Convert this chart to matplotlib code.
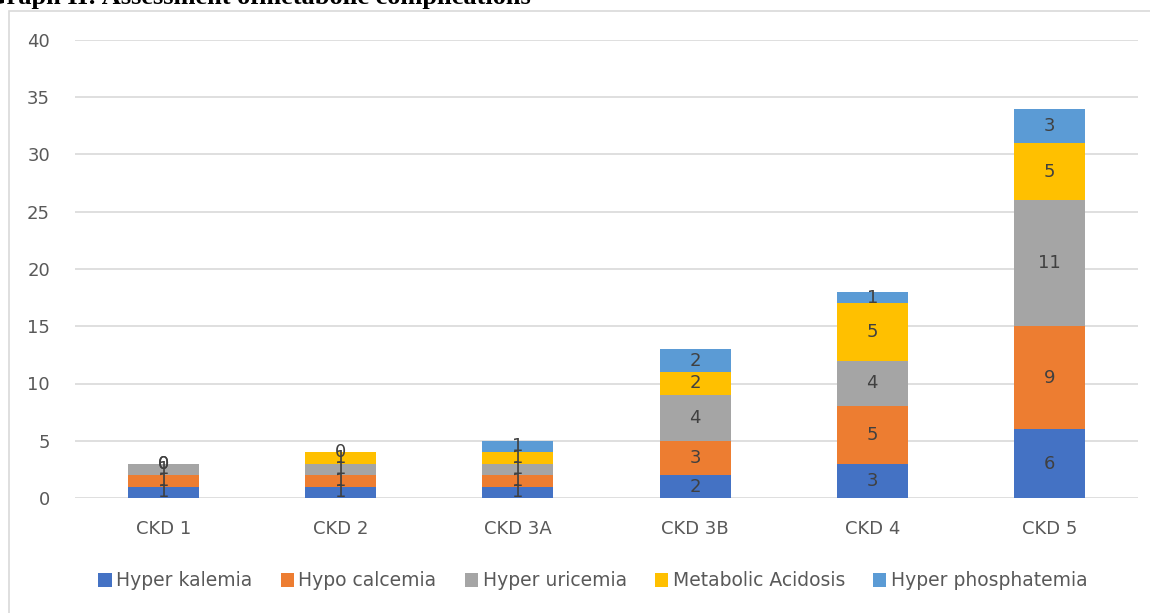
import matplotlib
matplotlib.use("Agg")
import matplotlib.pyplot as plt
from matplotlib.patches import Rectangle
import numpy as np

categories = ["CKD 1", "CKD 2", "CKD 3A", "CKD 3B", "CKD 4", "CKD 5"]
series_names = ["Hyper kalemia", "Hypo calcemia", "Hyper uricemia", "Metabolic Acidosis", "Hyper phosphatemia"]
hyper_kalemia = [1, 1, 1, 2, 3, 6]
hypo_calcemia = [1, 1, 1, 3, 5, 9]
hyper_uricemia = [1, 1, 1, 4, 4, 11]
metabolic_acidosis = [0, 1, 1, 2, 5, 5]
hyper_phosphatemia = [0, 0, 1, 2, 1, 3]
colors = ["#4472C4", "#ED7D31", "#A5A5A5", "#FFC000", "#5B9BD5"]
y_ticks = [0, 5, 10, 15, 20, 25, 30, 35, 40]

series = [hyper_kalemia, hypo_calcemia, hyper_uricemia, metabolic_acidosis, hyper_phosphatemia]

fig = plt.figure(figsize=(11.5, 6.13), dpi=100)
W, H = 1150, 613
ax = fig.add_axes([75 / W, 1 - 498 / H, (1138 - 75) / W, (498 - 40) / H])

# chart border
fig.patches.append(Rectangle((9 / W, -0.1), 1.2, 1 - 11 / H + 0.1, transform=fig.transFigure,
                             fill=False, edgecolor="#D9D9D9", linewidth=1.2))

fig.text(-14 / W, 1 - 4 / H, "Graph II: Assessment ofmetabolic complications",
         fontfamily="Liberation Serif", fontweight="bold", fontsize=19, va="baseline", ha="left")

x = np.arange(len(categories))
bottom = np.zeros(len(categories))
width = 0.4
for name, vals, c in zip(series_names, series, colors):
    vals = np.array(vals, dtype=float)
    ax.bar(x, vals, width, bottom=bottom, color=c, label=name, zorder=3)
    for xi, b, v in zip(x, bottom, vals):
        ax.text(xi, b + v / 2, f"{int(v)}", ha="center", va="center",
                fontsize=13, color="#404040", zorder=4)
    bottom += vals

ax.set_xlim(-0.5, len(categories) - 0.5)
ax.set_ylim(0, 40)
ax.set_yticks(y_ticks)
ax.set_xticks(x)
ax.set_xticklabels(categories)
ax.yaxis.grid(True, color="#D9D9D9", linewidth=1.2, zorder=0)
ax.set_axisbelow(True)
for s in ax.spines.values():
    s.set_visible(False)
ax.tick_params(length=0, labelsize=13, colors="#595959")
ax.tick_params(axis="x", pad=16)
ax.tick_params(axis="y", pad=18)

leg = fig.legend(loc="center", bbox_to_anchor=(593 / W, 1 - 581 / H), ncol=5, frameon=False,
                 fontsize=13.5, handlelength=0.7, handleheight=0.7, handletextpad=0.25,
                 columnspacing=1.5)
for t in leg.get_texts():
    t.set_color("#595959")

fig.savefig("out.png", dpi=100)
